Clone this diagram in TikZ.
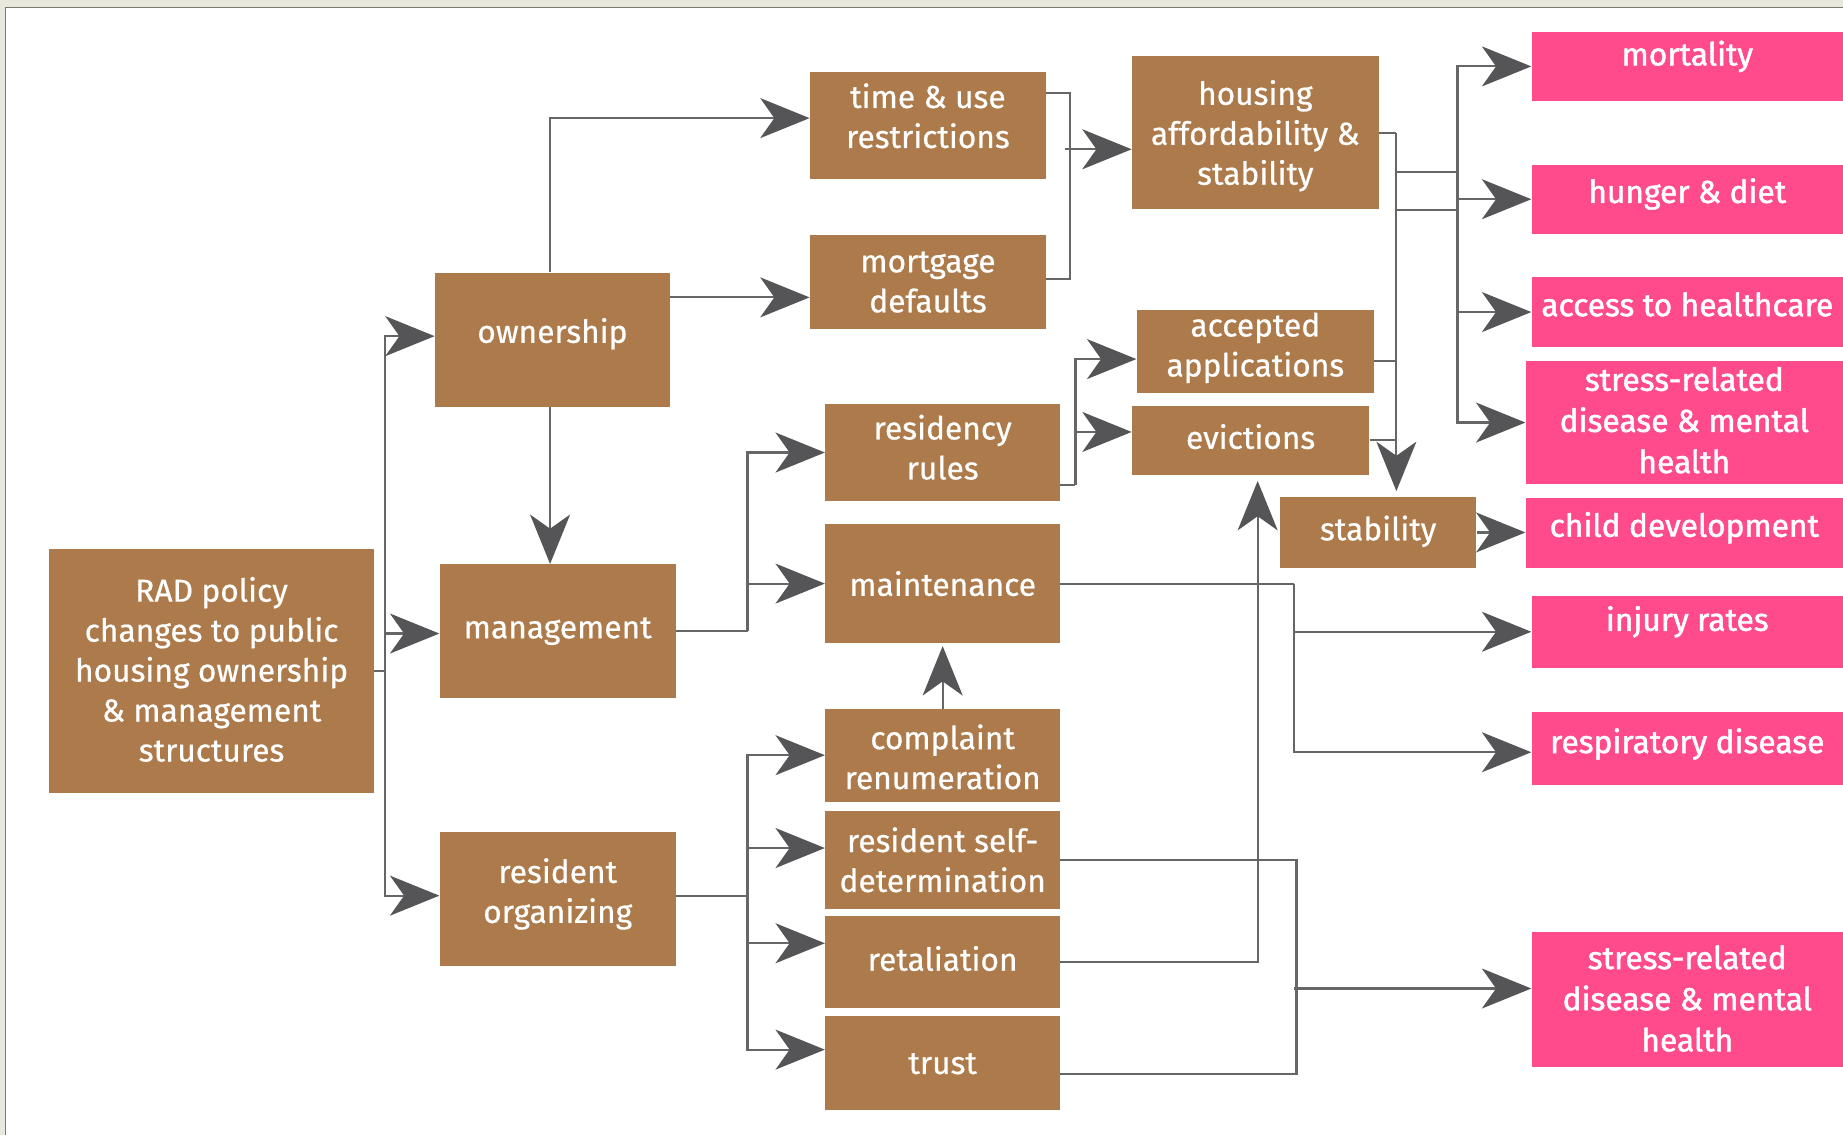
\documentclass[tikz,border=0pt]{standalone}
\usepackage{fontspec}
\setmainfont{Fira Sans}
\newfontfamily\brownfont[FakeBold=0.6]{Fira Sans}
\newfontfamily\pinkfont[FakeBold=1.5]{Fira Sans}
\usetikzlibrary{arrows.meta,calc}
\definecolor{brownbox}{HTML}{AD7B4B}
\definecolor{pinkbox}{HTML}{FF4A8C}
\definecolor{lncol}{HTML}{666666}
\definecolor{tipcol}{HTML}{555557}
\definecolor{beige}{HTML}{E8E8DC}
\definecolor{framecol}{HTML}{7A7A6E}
\newcommand\mybox[8]{%
  \node[#1, minimum width=#5pt, minimum height=#6pt] (#2) at (#3,#4) {};
  \node[#1txt] (#2-t) at ($(#2.center)+(0,#7)$) {#8};}
\begin{document}
\begin{tikzpicture}[x=1pt,y=-1pt,
  bbox/.style={rectangle, fill=brownbox, draw=none, inner sep=0pt},
  pbox/.style={rectangle, fill=pinkbox, draw=none, inner sep=0pt},
  bboxtxt/.style={text=white, align=center, inner sep=0pt, font=\brownfont\fontsize{27}{34}\selectfont},
  pboxtxt/.style={text=white, align=center, inner sep=0pt, font=\pinkfont\fontsize{27}{35}\selectfont},
  ln/.style={draw=lncol, line width=1.8pt},
  ar/.style={ln, -{Stealth[length=42pt, width=34pt, inset=12pt, color=tipcol]}}]
\useasboundingbox (0,0) rectangle (1568,966);
\clip (0,0) rectangle (1568,966);
\fill[beige] (0,0) rectangle (1568,966);
\fill[white] (4.5,6.5) rectangle (1568,966);
\draw[framecol, line width=1.3pt] (4.5,966) -- (4.5,6.5) -- (1568,6.5);

% brown boxes
\mybox{bbox}{rad}{180}{571}{276}{208}{-1.5}{RAD policy\\changes to public\\housing ownership\\\& management\\structures}
\mybox{bbox}{own}{470}{289}{200}{114}{-5}{ownership}
\mybox{bbox}{mgmt}{474.5}{537}{201}{114}{0}{management}
\mybox{bbox}{resorg}{474.5}{765}{201}{114}{-4.5}{resident\\organizing}
\mybox{bbox}{time}{789.5}{106.5}{201}{91}{-8}{time \& use\\restrictions}
\mybox{bbox}{mort}{789.5}{240}{201}{80}{0}{mortgage\\defaults}
\mybox{bbox}{resid}{802}{385}{200}{82}{-4.5}{residency\\rules}
\mybox{bbox}{maint}{802}{496.5}{200}{101}{0}{maintenance}
\mybox{bbox}{compl}{802}{642.5}{200}{79}{1.5}{complaint\\renumeration}
\mybox{bbox}{selfdet}{802}{731.5}{200}{83}{0}{resident self-\\determination}
\mybox{bbox}{retal}{802}{818.5}{200}{79}{-3}{retaliation}
\mybox{bbox}{trust}{802}{904}{200}{80}{1}{trust}
\mybox{bbox}{house}{1068}{113}{210}{130}{2.5}{housing\\affordability \&\\stability}
\mybox{bbox}{accept}{1068}{299}{202}{70}{-3}{accepted\\applications}
\mybox{bbox}{evict}{1064}{374.5}{202}{59}{-3}{evictions}
\mybox{bbox}{stab}{1172.5}{453}{167}{60}{-1}{stability}

% pink boxes
\mybox{pbox}{mortal}{1435.5}{56.5}{265}{59}{-8.5}{mortality}
\mybox{pbox}{hunger}{1435.5}{169.5}{265}{59}{-4.5}{hunger \& diet}
\mybox{pbox}{access}{1435.5}{265.5}{265}{59}{-6.5}{access to healthcare}
\mybox{pbox}{stressa}{1433}{359.5}{270}{105}{-2}{stress-related\\disease \& mental\\health}
\mybox{pbox}{child}{1433}{453.5}{270}{59}{-4.5}{child development}
\mybox{pbox}{injury}{1435.5}{537.5}{265}{61}{-8.5}{injury rates}
\mybox{pbox}{resp}{1435.5}{637}{265}{62}{-4}{respiratory disease}
\mybox{pbox}{stressb}{1435.5}{850.5}{265}{115}{-1}{stress-related\\disease \& mental\\health}

% RAD -> ownership, management, resident organizing
\coordinate (j1) at (327.5,571);
\draw[ln] (rad.east) -- (j1);
\draw[ar] (j1) |- ($(own.west)+(0,-3)$);
\draw[ar] (j1) |- ($(mgmt.west)+(0,2)$);
\draw[ar] (j1) |- ($(resorg.west)+(0,-3)$);

% ownership
\draw[ar] ($(own.north)+(-2,0)$) |- ($(time.west)+(0,-6)$);
\draw[ar] ($(own.east)+(0,-36)$) -- ($(mort.west)+(0,13)$);
\coordinate (o1) at ($(own.south)+(-2,0)$);
\draw[ar] (o1) -- (o1 |- mgmt.north);

% management
\coordinate (j5) at (636,537);
\draw[ln] (mgmt.east) -- (j5);
\draw[ar] (j5) |- (resid.west);
\draw[ar] (j5) |- (maint.west);

% time & use, mortgage -> housing
\coordinate (j6) at (910,127);
\draw[ln] ($(time.east)+(0,-27.5)$) -| (j6);
\draw[ln] ($(mort.east)+(0,-3)$) -| (j6);
\draw[ar] ($(j6)+(-4,0)$) -- (j6 -| house.west);

% residency rules -> accepted, evictions
\coordinate (j7) at (915,413);
\draw[ln] (resid.east |- j7) -- (j7);
\draw[ar] (j7) |- ($(accept.west)+(0,6.5)$);
\draw[ar] (j7) |- ($(evict.west)+(0,-7)$);

% -> stability
\coordinate (j8) at (1188,113);
\draw[ln] (house.east) -- (j8);
\coordinate (a1) at ($(accept.east)+(0,8)$);
\draw[ln] (a1) -- (a1 -| j8);
\draw[ln] (evict.east) -- (evict.east -| j8);
\draw[ar, shorten >=5pt] (j8) -- (j8 |- stab.north);

% -> health outcomes
\coordinate (j9a) at (1240,146);
\coordinate (j9b) at (1240,179);
\draw[ln] (j9a -| j8) -- (j9a);
\draw[ln] (j9b -| j8) -- (j9b);
\draw[ar] (j9a) |- (mortal.west);
\draw[ar] (j9a) |- (hunger.west);
\draw[ar] (j9a) |- (access.west);
\draw[ar] (j9a) |- (stressa.west);

% stability -> child development
\draw[ar] (stab.east) -- (stab.east -| child.west);

% maintenance -> injury, respiratory
\coordinate (j11) at (1101,496.5);
\draw[ln] (maint.east) -- (j11);
\draw[ar] (j11) |- (injury.west);
\draw[ar] (j11) |- ($(resp.west)+(0,3)$);

% retaliation -> evictions
\coordinate (e1) at ($(evict.south)+(6,5)$);
\draw[ar] (retal.east) -| (e1);

% self-determination, trust -> stress
\coordinate (j13) at (1103,841);
\draw[ln] (selfdet.east) -| (j13);
\draw[ln] ($(trust.east)+(0,10)$) -| (j13);
\draw[ar] ($(j13)+(-2,0)$) -- (j13 -| stressb.west);

% resident organizing -> four
\coordinate (j14) at (636,762);
\draw[ln] (resorg.east |- j14) -- (j14);
\draw[ar] (j14) |- (compl.west);
\draw[ar] (j14) |- ($(selfdet.west)+(0,-10)$);
\draw[ar] (j14) |- ($(retal.west)+(0,-16)$);
\draw[ar] (j14) |- ($(trust.west)+(0,-11)$);

% complaint -> maintenance
\draw[ar, shorten >=2.5pt] (compl.north) -- (compl.north |- maint.south);
\end{tikzpicture}
\end{document}
